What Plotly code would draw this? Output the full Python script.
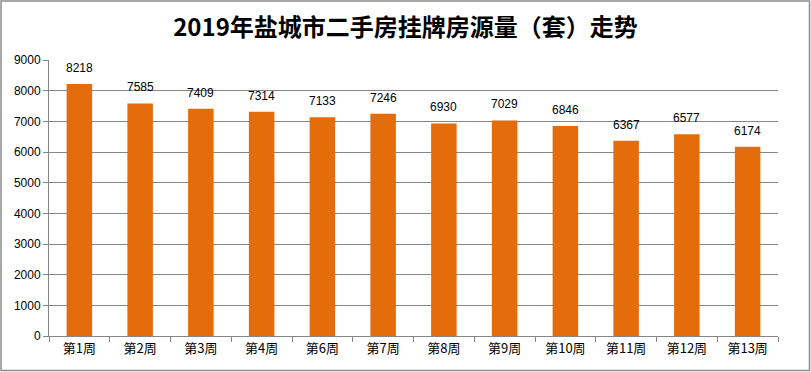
import plotly.graph_objects as go

categories = ["第1周", "第2周", "第3周", "第4周", "第6周", "第7周", "第8周", "第9周", "第10周", "第11周", "第12周", "第13周"]
values = [8218, 7585, 7409, 7314, 7133, 7246, 6930, 7029, 6846, 6367, 6577, 6174]
title_text = "2019年盐城市二手房挂牌房源量（套）走势"

W, H = 811, 372
L, R, T, B = 49, 33, 60, 36
pw, ph = W - L - R, H - T - B
grid = "#868686"

fig = go.Figure(go.Bar(
    x=categories, y=values,
    marker=dict(color="#E46C0A", line=dict(width=0)),
    width=0.42,
    cliponaxis=False,
))

for c, v in zip(categories, values):
    fig.add_annotation(x=c, y=v, text=str(v), showarrow=False, yanchor="bottom", yshift=7,
                       font=dict(size=12, color="#000000", family="Liberation Sans, Arial"))

fig.update_layout(
    width=W, height=H,
    margin=dict(l=L, r=R, t=T, b=B),
    paper_bgcolor="white", plot_bgcolor="white",
    title=dict(text="<b>" + title_text + "</b>", x=0.5, xanchor="center", y=1 - 28 / H, yanchor="middle",
               font=dict(size=24, color="#000000", family="Noto Sans CJK SC")),
    showlegend=False,
    xaxis=dict(
        type="category", showline=True, linecolor=grid, linewidth=1,
        ticks="outside", tickson="boundaries", ticklen=5, tickcolor=grid,
        tickfont=dict(size=13, color="#000000", family="Noto Sans CJK SC"),
        showgrid=False,
    ),
    yaxis=dict(
        range=[0, 9000], dtick=1000, showline=True, linecolor=grid, linewidth=1,
        ticks="outside", ticklen=5, tickcolor=grid,
        showgrid=True, gridcolor=grid, gridwidth=1, zeroline=False,
        tickfont=dict(size=12, color="#000000", family="Liberation Sans, Arial"),
    ),
    shapes=[dict(
        type="rect", xref="paper", yref="paper",
        x0=(1 - L) / pw, x1=(809.5 - L) / pw,
        y0=(H - B - 370.5) / ph, y1=(H - B - 1) / ph,
        line=dict(color="#8C8C8C", width=1.5), fillcolor="rgba(0,0,0,0)",
    )],
)

fig.write_html("out.html")
